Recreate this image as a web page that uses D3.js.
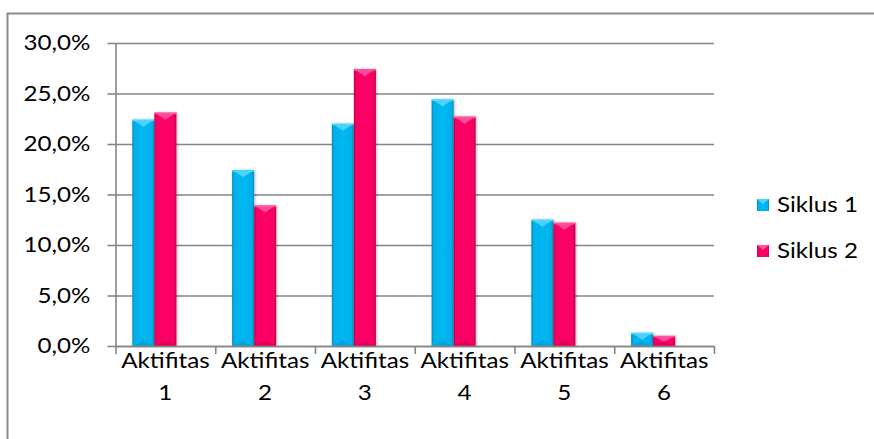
<!DOCTYPE html>
<html>
<head>
<meta charset="utf-8">
<script src="https://cdn.jsdelivr.net/npm/d3@7"></script>
<style>
  html, body { margin: 0; padding: 0; background: #fff; }
  svg { display: block; }
  text { font-family: Lato, "Open Sans", sans-serif; fill: #000; }
</style>
</head>
<body>
<svg id="chart" width="874" height="439"></svg>
<script>
// ---- data ----
const categories = ["Aktifitas 1", "Aktifitas 2", "Aktifitas 3", "Aktifitas 4", "Aktifitas 5", "Aktifitas 6"];
const seriesNames = ["Siklus 1", "Siklus 2"];
const siklus1 = [0.224, 0.174, 0.220, 0.244, 0.125, 0.013];
const siklus2 = [0.231, 0.139, 0.274, 0.227, 0.122, 0.010];
const yTicks = [0, 0.05, 0.10, 0.15, 0.20, 0.25, 0.30];

(function () {
// ---- layout ----
const mLeft = 115.5, mRight = 714, mTop = 43, mBottom = 346;
const FS = 20.5, SX = 1.18;
const gridColor = "#858585";

const svg = d3.select("#chart");

const defs = svg.append("defs");
function makeGrad(id, edge, main, light) {
  const g = defs.append("linearGradient").attr("id", id).attr("x1", "0").attr("x2", "1").attr("y1", "0").attr("y2", "0");
  g.append("stop").attr("offset", "0%").attr("stop-color", edge);
  g.append("stop").attr("offset", "10%").attr("stop-color", main);
  g.append("stop").attr("offset", "50%").attr("stop-color", light);
  g.append("stop").attr("offset", "90%").attr("stop-color", main);
  g.append("stop").attr("offset", "100%").attr("stop-color", edge);
}
const palette = {
  "Siklus 1": {edge: "#0a86b4", main: "#00b0ea", light: "#00b8f2", bevel: "#4fd8ff", dark: "#0b94c6"},
  "Siklus 2": {edge: "#b30049", main: "#f70063", light: "#ff0066", bevel: "#ff52a0", dark: "#cf0054"}
};
seriesNames.forEach((s, i) => makeGrad("g" + i, palette[s].edge, palette[s].main, palette[s].light));
const f = defs.append("filter").attr("id", "sh").attr("x", "-30%").attr("y", "-10%").attr("width", "160%").attr("height", "120%");
f.append("feDropShadow").attr("dx", 1).attr("dy", 0).attr("stdDeviation", 1.6).attr("flood-color", "#000").attr("flood-opacity", 0.28);

// frame (top and left border visible)
svg.append("rect").attr("x", 7.5).attr("y", 13.5).attr("width", 1000).attr("height", 600)
  .attr("fill", "none").attr("stroke", "#8c8c8c").attr("stroke-width", 2);

// ---- scales ----
const y = d3.scaleLinear().domain([0, 0.30]).range([mBottom, mTop]);
const x0 = d3.scaleBand().domain(categories).range([mLeft, mRight]).paddingInner(0.338).paddingOuter(0.169);
const x1 = d3.scaleBand().domain(seriesNames).range([0, x0.bandwidth() * 2 / 3]);
const xEdge = d3.scaleLinear().domain([0, categories.length]).range([mLeft, mRight]);

const fmt = v => d3.format(".1%")(v).replace(".", ",");

// gridlines
const grid = svg.append("g").attr("transform", `translate(${mLeft},0)`)
  .call(d3.axisLeft(y).tickValues(yTicks).tickSize(-(mRight - mLeft)).tickFormat(""));
grid.select(".domain").remove();
grid.selectAll("line").attr("stroke", gridColor).attr("stroke-width", 1.6);

// y axis with outward ticks and labels
const yAx = svg.append("g").attr("transform", `translate(${mLeft},0)`)
  .call(d3.axisLeft(y).tickValues(yTicks).tickSize(8).tickSizeOuter(0).tickFormat(fmt));
yAx.select(".domain").attr("stroke", gridColor).attr("stroke-width", 1.6);
yAx.selectAll("line").attr("stroke", gridColor).attr("stroke-width", 1.6);
yAx.selectAll("text")
  .attr("x", null).attr("dy", "0.34em")
  .attr("transform", `translate(-25,0) scale(${SX},1)`)
  .style("font-size", FS + "px").style("font-family", "Lato, sans-serif");

// bars
const rows = categories.map((c, i) => ({cat: c, vals: [siklus1[i], siklus2[i]]}));
const gBars = svg.append("g");
rows.forEach(r => {
  seriesNames.forEach((s, si) => {
    const v = r.vals[si];
    const bx = x0(r.cat) + x1(s), bw = x1.bandwidth();
    const by = y(v), bh = y(0) - y(v);
    const p = palette[s];
    const g = gBars.append("g");
    g.append("rect").attr("x", bx).attr("y", by).attr("width", bw).attr("height", bh)
      .attr("fill", `url(#g${si})`).attr("filter", "url(#sh)");
    const bev = Math.min(6, bh / 2);
    g.append("rect").attr("x", bx).attr("y", by).attr("width", bw).attr("height", 1.5).attr("fill", p.bevel);
    g.append("path").attr("d", `M${bx + 2},${by + 1} L${bx + bw - 2},${by + 1} L${bx + bw / 2},${by + bev + 1} Z`).attr("fill", p.bevel).attr("opacity", 0.9);
    g.append("path").attr("d", `M${bx + 2},${by + bh} L${bx + bw - 2},${by + bh} L${bx + bw / 2},${by + bh - bev} Z`).attr("fill", p.dark).attr("opacity", 0.6);
  });
});

// x axis: baseline + boundary ticks
const xAx = svg.append("g").attr("transform", `translate(0,${mBottom})`)
  .call(d3.axisBottom(xEdge).tickValues(d3.range(categories.length + 1)).tickSize(8).tickSizeOuter(0).tickFormat(""));
xAx.select(".domain").attr("stroke", gridColor).attr("stroke-width", 1.6);
xAx.selectAll("line").attr("stroke", gridColor).attr("stroke-width", 1.6);

// category labels
const xLab = svg.append("g").attr("transform", `translate(0,${mBottom})`)
  .call(d3.axisBottom(x0).tickSize(0).tickPadding(0));
xLab.select(".domain").remove();
xLab.selectAll(".tick text").each(function (d) {
  const t = d3.select(this);
  const parts = d.split(" ");
  t.text(null).attr("y", null).attr("dy", null)
    .attr("transform", `scale(${SX},1)`)
    .style("font-size", FS + "px").style("font-family", "Lato, sans-serif");
  t.append("tspan").attr("x", 0).attr("y", 22).text(parts[0]);
  t.append("tspan").attr("x", 0).attr("y", 54).text(parts[1]);
});

// legend
const legend = svg.append("g");
const legY = d3.scalePoint().domain(seriesNames).range([205, 251]);
seriesNames.forEach((s, si) => {
  const p = palette[s];
  const cy = legY(s);
  const g = legend.append("g");
  g.append("rect").attr("x", 757).attr("y", cy - 6).attr("width", 12).attr("height", 12).attr("fill", `url(#g${si})`);
  g.append("path").attr("d", `M757,${cy - 6} L769,${cy - 6} L763,${cy - 1} Z`).attr("fill", p.bevel);
  g.append("text").attr("transform", `translate(777,${cy}) scale(${SX},1)`).attr("dy", "0.36em")
    .style("font-size", FS + "px").text(s);
});
})();
</script>
</body>
</html>
